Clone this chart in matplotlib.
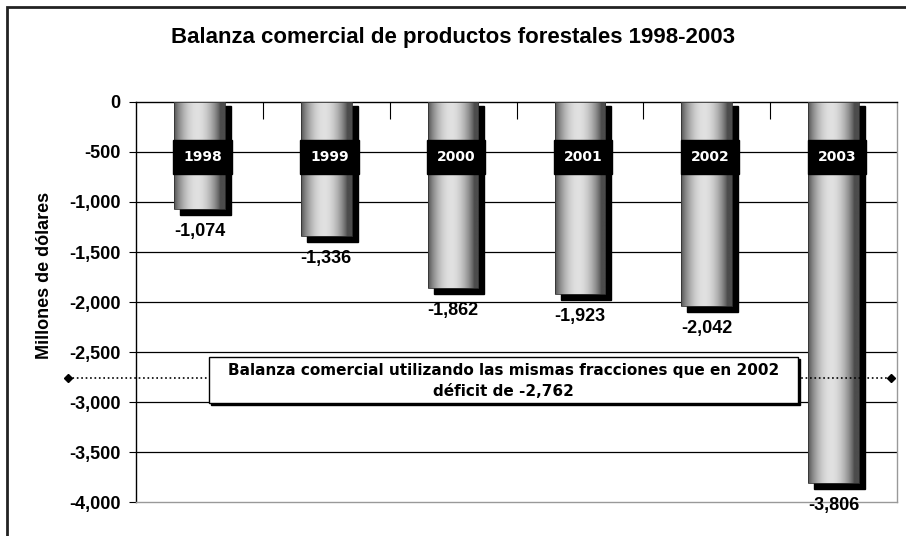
import numpy as np
import matplotlib.pyplot as plt
from matplotlib.patches import Rectangle
from matplotlib.ticker import FuncFormatter

years = ['1998', '1999', '2000', '2001', '2002', '2003']
values = [-1074, -1336, -1862, -1923, -2042, -3806]
deficit_2002 = -2762
note_lines = ['Balanza comercial utilizando las mismas fracciones que en 2002',
              'déficit de -2,762']

plt.rcParams['font.family'] = ['Liberation Sans', 'DejaVu Sans']

fig = plt.figure(figsize=(9.06, 5.36), dpi=100)
ax = fig.add_axes([136/906, 34/536, 761/906, 400/536])
ax.set_xlim(-0.5, 5.5)
ax.set_ylim(-4000, 0)

# marco exterior
fig.patches.append(Rectangle((7/906, -0.2), 1.5, 1.2 - 7/536, transform=fig.transFigure,
                             fill=False, edgecolor='#222222', lw=2))

# rejilla
for y in range(-3500, 0, 500):
    ax.axhline(y, color='black', lw=0.9, zorder=1)

w = 0.4
dx = 6 / 126.8       # sombra en unidades de datos
dy = 60
t = np.linspace(0, 1, 200)
grad = 0.30 + 0.58 * np.sin(np.pi * np.clip(t * 1.1, 0, 1)) ** 0.8
grad = grad[np.newaxis, :]

for i, v in enumerate(values):
    x0 = i - w / 2
    ax.add_patch(Rectangle((x0 + dx, v - dy), w, -v + dy - 40, color='black', zorder=2))
    ax.imshow(grad, cmap='gray', vmin=0, vmax=1, aspect='auto',
              extent=[x0, x0 + w, v, 0], zorder=3, interpolation='bilinear')
    ax.add_patch(Rectangle((x0, v), w, -v, fill=False, edgecolor='#333333', lw=0.6, zorder=3))
    # etiqueta del año
    ax.add_patch(Rectangle((i + 0.025 - 0.23, -720), 0.46, 340, color='black', zorder=4))
    ax.text(i + 0.025, -550, years[i], color='white', fontsize=10, fontweight='bold',
            family='DejaVu Sans', ha='center', va='center', zorder=5)
    ax.text(i, v - 225, f'{v:,}', fontsize=13, fontweight='bold',
            ha='center', va='center', zorder=5)

ax.set_aspect('auto')
ax.set_xlim(-0.5, 5.5)
ax.set_ylim(-4000, 0)

# linea del deficit 2002
ax.plot([-1.036, 5.454], [deficit_2002, deficit_2002], ls=':', color='black', lw=1.2,
        marker='D', markersize=4, clip_on=False, zorder=4)

# cuadro de nota
bx0, bx1 = 0.076, 4.72
ax.add_patch(Rectangle((bx0 + 0.012, -3030), bx1 - bx0, 460, color='black', zorder=5))
ax.add_patch(Rectangle((bx0, -3010), bx1 - bx0, 460, facecolor='white',
                       edgecolor='black', lw=1, zorder=6))
ax.text((bx0 + bx1) / 2, -2685, note_lines[0], fontsize=11, fontweight='bold',
        family='DejaVu Sans', ha='center', va='center', zorder=7)
ax.text((bx0 + bx1) / 2, -2890, note_lines[1], fontsize=11, fontweight='bold',
        family='DejaVu Sans', ha='center', va='center', zorder=7)

# ejes
ax.xaxis.tick_top()
ax.set_xticks(np.arange(0.5, 5.5, 1))
ax.tick_params(axis='x', direction='in', length=12, labeltop=False, color='black')
ax.set_yticks(range(-4000, 1, 500))
ax.yaxis.set_major_formatter(FuncFormatter(lambda v, p: f'{int(v):,}'))
ax.tick_params(axis='y', direction='out', length=5, labelsize=13, pad=6)
for lab in ax.get_yticklabels():
    lab.set_fontweight('bold')
ax.spines['left'].set_color('black')
ax.spines['top'].set_color('black')
ax.spines['bottom'].set_color('#999999')
ax.spines['right'].set_color('#999999')
for s in ax.spines.values():
    s.set_linewidth(1)

fig.text(0.5, 1 - 38/536, 'Balanza comercial de productos forestales 1998-2003',
         fontsize=16, fontweight='bold', ha='center', va='center')
fig.text(45/906, 1 - 275/536, 'Millones de dólares', fontsize=13, fontweight='bold',
         rotation=90, ha='center', va='center')

fig.savefig('out.png', dpi=100)
